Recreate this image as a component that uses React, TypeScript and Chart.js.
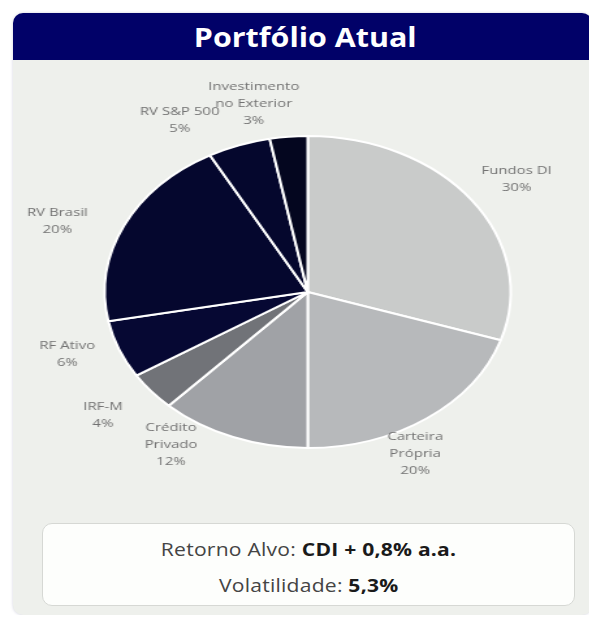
import React, { useEffect, useRef } from "react";
import { Chart, registerables } from "chart.js";

Chart.register(...registerables);

const categories = [
  "Fundos DI",
  "Carteira Própria",
  "Crédito Privado",
  "IRF-M",
  "RF Ativo",
  "RV Brasil",
  "RV S&P 500",
  "Investimento no Exterior",
];
const labelLines = [
  ["Fundos DI"],
  ["Carteira", "Própria"],
  ["Crédito", "Privado"],
  ["IRF-M"],
  ["RF Ativo"],
  ["RV Brasil"],
  ["RV S&P 500"],
  ["Investimento", "no Exterior"],
];
const values = [30, 20, 12, 4, 6, 20, 5, 3];
const sliceColors = [
  "#c9cbca",
  "#b7b9bb",
  "#a0a2a6",
  "#717378",
  "#060833",
  "#05072e",
  "#05072d",
  "#04061f",
];
const title = "Portfólio Atual";
const returnLabel = "Retorno Alvo: ";
const returnValue = "CDI + 0,8% a.a.";
const volLabel = "Volatilidade: ";
const volValue = "5,3%";

// label placement tuning (angle nudge in degrees, gap outside the rim in px)
const labelNudges = [1, 9, 13, 1.5, 3, -5, -10, -7];
const labelGaps = [40, 26, 29, 44, 39, 49, 42, 37];

const outsideLabels = {
  id: "outsideLabels",
  afterDatasetsDraw(chart: any) {
    const ctx = chart.ctx;
    const meta = chart.getDatasetMeta(0);
    meta.data.forEach((arc: any, i: number) => {
      const p = arc.getProps(["x", "y", "startAngle", "endAngle", "outerRadius"], true);
      const mid = (p.startAngle + p.endAngle) / 2 + (labelNudges[i] * Math.PI) / 180;
      const d = p.outerRadius + labelGaps[i];
      const lx = p.x + Math.cos(mid) * d;
      const ly = p.y + Math.sin(mid) * d;
      const lines = [...labelLines[i], values[i] + "%"];
      const lh = 17;
      ctx.save();
      ctx.font = '400 11.5px "Open Sans", sans-serif';
      ctx.fillStyle = "#727272";
      ctx.textAlign = "center";
      ctx.textBaseline = "middle";
      lines.forEach((t, k) => {
        ctx.fillText(t, lx, ly + (k - (lines.length - 1) / 2) * lh);
      });
      ctx.restore();
    });
  },
};

export default function App() {
  const canvasRef = useRef<HTMLCanvasElement | null>(null);

  useEffect(() => {
    if (!canvasRef.current) return;
    const chart = new Chart(canvasRef.current, {
      type: "pie",
      data: {
        labels: categories,
        datasets: [
          {
            data: values,
            backgroundColor: sliceColors,
            borderColor: "#ffffff",
            borderWidth: 2,
            hoverBorderWidth: 2,
            hoverOffset: 0,
          },
        ],
      },
      options: {
        responsive: false,
        animation: false,
        devicePixelRatio: 1,
        layout: { padding: { top: 75, bottom: 69, left: 69, right: 61 } },
        plugins: {
          legend: { display: false },
          tooltip: { enabled: false },
        },
      },
      plugins: [outsideLabels],
    });
    return () => chart.destroy();
  }, []);

  return (
    <div
      style={{
        marginLeft: 5,
        marginTop: 5,
        width: 579,
        height: 602,
        background: "#eef0ec",
        borderRadius: 10,
        boxShadow: "0 0 3px rgba(120,120,160,0.35)",
        position: "relative",
        overflow: "hidden",
        fontFamily: '"Open Sans", sans-serif',
      }}
    >
      <div
        style={{
          height: 47,
          background: "#010168",
          color: "#ffffff",
          display: "flex",
          alignItems: "center",
          justifyContent: "center",
          paddingLeft: 6,
        }}
      >
        <span
          style={{
            display: "inline-block",
            fontWeight: 700,
            fontSize: 26,
            transform: "scaleX(1.17)",
          }}
        >
          {title}
        </span>
      </div>
      <canvas
        ref={canvasRef}
        width={445}
        height={458}
        style={{ display: "block", width: 579, height: 458 }}
      />
      <div
        style={{
          position: "absolute",
          left: 29,
          top: 510,
          width: 533,
          height: 83,
          background: "#fdfefc",
          border: "1px solid #d6d8d4",
          borderRadius: 10,
          display: "flex",
          flexDirection: "column",
          alignItems: "center",
          justifyContent: "center",
          color: "#444444",
          fontSize: 18.5,
          lineHeight: "36px",
          paddingTop: 4,
          boxSizing: "border-box",
        }}
      >
        <div style={{ transform: "scaleX(1.14)", letterSpacing: 0.2 }}>
          {returnLabel}
          <b style={{ color: "#1a1a1a" }}>{returnValue}</b>
        </div>
        <div style={{ transform: "scaleX(1.14)", letterSpacing: 0.2 }}>
          {volLabel}
          <b style={{ color: "#1a1a1a" }}>{volValue}</b>
        </div>
      </div>
    </div>
  );
}
